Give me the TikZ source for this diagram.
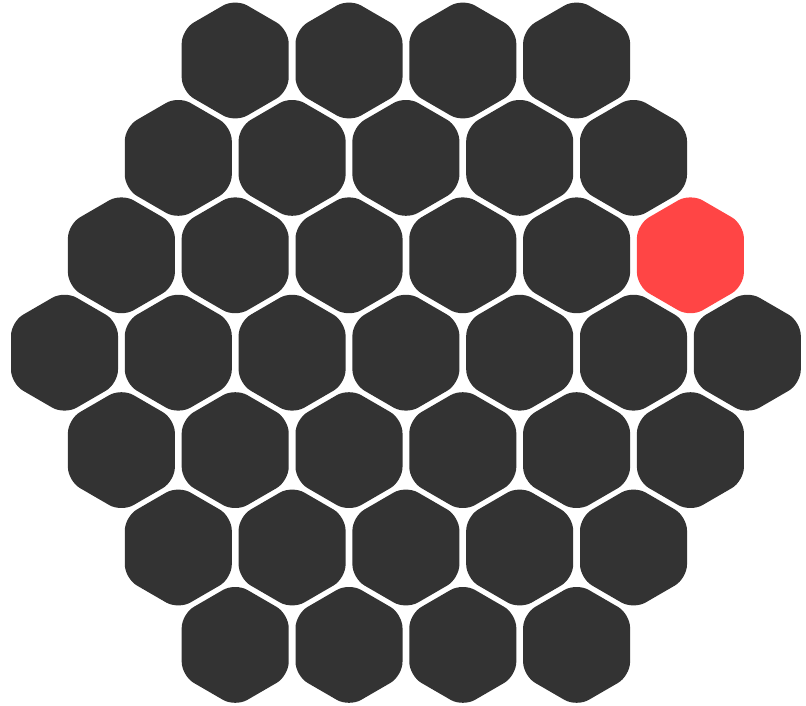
\documentclass[tikz,border=0pt]{standalone}
\definecolor{hexdark}{HTML}{333333}
\definecolor{hexred}{HTML}{FF4545}
\tikzset{
  hexcell/.style={fill=hexdark, rounded corners=14pt},
  hexhot/.style={fill=hexred, rounded corners=14pt}
}
\newcommand{\hexW}{53.5}
\newcommand{\hexH}{62}
\newcommand{\hexpath}[3]{%
  \fill[#3] (#1+\hexW,#2) -- (#1+\hexW,#2+\hexH/2) -- (#1,#2+\hexH) -- (#1-\hexW,#2+\hexH/2)
    -- (#1-\hexW,#2-\hexH/2) -- (#1,#2-\hexH) -- (#1+\hexW,#2-\hexH/2) -- cycle;}
\begin{document}
\begin{tikzpicture}[x=1pt,y=-1pt]
\useasboundingbox (0,0) rectangle (806,706);
\foreach \r in {0,...,6}{
  \pgfmathtruncatemacro{\off}{abs(\r-3)}
  \pgfmathtruncatemacro{\n}{7-\off-1}
  \foreach \i in {0,...,\n}{
    \pgfmathsetmacro{\cx}{64.5+\off*56.9+\i*113.8}
    \pgfmathsetmacro{\cy}{60.5+\r*97.4}
    \pgfmathtruncatemacro{\hot}{(\r==2)&&(\i==5)}
    \ifnum\hot=1
      \hexpath{\cx}{\cy}{hexhot}
    \else
      \hexpath{\cx}{\cy}{hexcell}
    \fi
  }
}
\end{tikzpicture}
\end{document}
